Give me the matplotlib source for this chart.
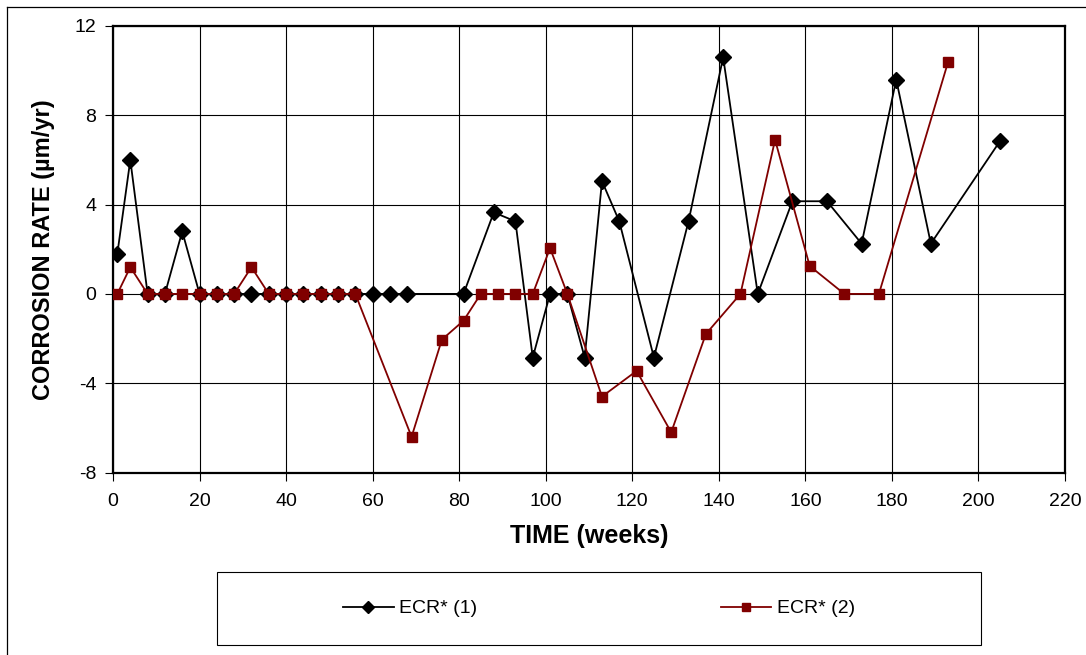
import numpy as np
import matplotlib.pyplot as plt
from matplotlib.lines import Line2D
from matplotlib.patches import Rectangle

plt.rcParams['font.family'] = ['Liberation Sans', 'DejaVu Sans']
plt.rcParams['axes.unicode_minus'] = False

# ECR* (1)
weeks1 = [1, 4, 8, 12, 16, 20, 24, 28, 32, 36, 40, 44, 48, 52, 56, 60, 64, 68,
          81, 88, 93, 97, 101, 105, 109, 113, 117, 125, 133, 141, 149, 157,
          165, 173, 181, 189, 205]
rate1 = [1.8, 6.0, 0, 0, 2.8, 0, 0, 0, 0, 0, 0, 0, 0, 0, 0, 0, 0, 0,
         0, 3.65, 3.25, -2.85, 0, 0, -2.85, 5.05, 3.25, -2.85, 3.25, 10.6, 0,
         4.15, 4.15, 2.25, 9.6, 2.25, 6.85]

# ECR* (2)
weeks2 = [1, 4, 8, 12, 16, 20, 24, 28, 32, 36, 40, 44, 48, 52, 56, 69, 76,
          81, 85, 89, 93, 97, 101, 105, 113, 121, 129, 137, 145, 153, 161,
          169, 177, 193]
rate2 = [0, 1.2, 0, 0, 0, 0, 0, 0, 1.2, 0, 0, 0, 0, 0, 0, -6.4, -2.05,
         -1.2, 0, 0, 0, 0, 2.05, 0, -4.6, -3.45, -6.2, -1.8, 0, 6.9, 1.25,
         0, 0, 10.4]

labels = ['ECR* (1)', 'ECR* (2)']

W, H = 1086, 655
fig = plt.figure(figsize=(W / 100, H / 100), dpi=100)
ax = fig.add_axes([113 / W, 1 - 472.5 / H, (1065 - 113) / W, (472.5 - 26) / H])

ax.plot(weeks1, rate1, color='black', lw=1.3, marker='D', ms=8,
        label=labels[0], zorder=3)
ax.plot(weeks2, rate2, color='#800000', lw=1.3, marker='s', ms=7.5,
        label=labels[1], zorder=3)

ax.set_xlim(0, 220)
ax.set_ylim(-8, 12)
ax.set_xticks(np.arange(0, 221, 20))
ax.set_yticks(np.arange(-8, 13, 4))
ax.grid(True, color='black', lw=0.8)
ax.set_axisbelow(True)
for s in ax.spines.values():
    s.set_linewidth(1.6)
ax.tick_params(direction='out', length=6, width=0.8, labelsize=14)
ax.tick_params(axis='x', pad=9)
ax.tick_params(axis='y', pad=6)

ax.set_xlabel('TIME (weeks)', fontsize=18, fontweight='bold', labelpad=10)
ax.set_ylabel('CORROSION RATE (µm/yr)', fontsize=17, fontweight='bold',
              labelpad=14)

# legend box below the plot
lx0, ly0, lx1, ly1 = 217, 572, 981, 645
fig.add_artist(Rectangle((lx0 / W, 1 - ly1 / H), (lx1 - lx0) / W, (ly1 - ly0) / H,
                         transform=fig.transFigure, fill=False,
                         edgecolor='black', lw=0.8))
fig.legend(loc='center', ncol=2,
           bbox_to_anchor=((lx0 + lx1) / 2 / W, 1 - (ly0 + ly1) / 2 / H),
           fontsize=14, frameon=False, handlelength=2.6, markerscale=0.75,
           handletextpad=0.3, columnspacing=12.5)

# outer border of the chart area
fig.add_artist(Line2D([7 / W, 7 / W], [0, 1 - 7 / H], color='black', lw=0.9,
                      transform=fig.transFigure))
fig.add_artist(Line2D([7 / W, 1], [1 - 7 / H, 1 - 7 / H], color='black', lw=0.9,
                      transform=fig.transFigure))

fig.savefig('out.png', dpi=100)
